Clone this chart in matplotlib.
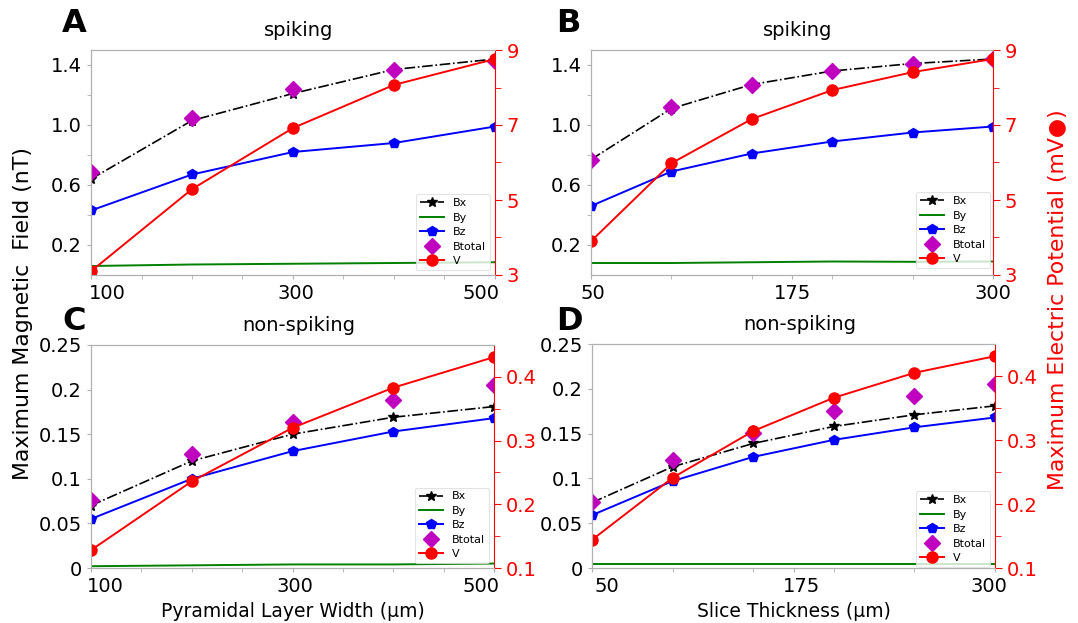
import numpy as np
import matplotlib
matplotlib.use('Agg')
import matplotlib.pyplot as plt
from matplotlib.transforms import ScaledTranslation

# x values
width_um = [100, 200, 300, 400, 500]
thick_um = [50, 100, 150, 200, 250, 300]

# A: spiking, pyramidal layer width
a_bx = [0.64, 1.03, 1.21, 1.37, 1.44]
a_by = [0.06, 0.07, 0.075, 0.08, 0.085]
a_bz = [0.43, 0.67, 0.82, 0.88, 0.99]
a_bt = [0.69, 1.05, 1.24, 1.37, 1.43]
a_v = [3.1, 5.29, 6.92, 8.07, 8.76]

# B: spiking, slice thickness
b_bx = [0.77, 1.11, 1.27, 1.36, 1.41, 1.44]
b_by = [0.08, 0.08, 0.085, 0.09, 0.088, 0.09]
b_bz = [0.46, 0.69, 0.81, 0.89, 0.95, 0.99]
b_bt = [0.77, 1.12, 1.27, 1.36, 1.41, 1.44]
b_v = [3.9, 5.98, 7.16, 7.93, 8.41, 8.76]

# C: non-spiking, pyramidal layer width
c_bx = [0.070, 0.120, 0.150, 0.169, 0.181]
c_by = [0.002, 0.003, 0.004, 0.004, 0.005]
c_bz = [0.055, 0.100, 0.131, 0.153, 0.168]
c_bt = [0.076, 0.128, 0.164, 0.188, 0.205]
c_v = [0.128, 0.236, 0.320, 0.383, 0.431]

# D: non-spiking, slice thickness
d_bx = [0.073, 0.113, 0.139, 0.158, 0.171, 0.181]
d_by = [0.005, 0.005, 0.005, 0.005, 0.005, 0.005]
d_bz = [0.059, 0.097, 0.124, 0.143, 0.157, 0.168]
d_bt = [0.074, 0.121, 0.151, 0.175, 0.192, 0.205]
d_v = [0.144, 0.241, 0.314, 0.366, 0.405, 0.431]

W, H = 1078, 623
TICK_FS = 14
GRAY = '#b0b0b0'


def fig_rect(left, right, top, bottom):
    return [left / W, 1 - bottom / H, (right - left) / W, (bottom - top) / H]


def panel(fig, rect, x, bx, by, bz, bt, v, title, letter, letter_xy, spiking,
          xticks, xminor, ylim, rlim, leg_anchor, xlabel=None):
    ax = fig.add_axes(fig_rect(*rect))
    l1, = ax.plot(x, bx, color='k', ls='-.', marker='*', ms=7, lw=1.2, label='Bx')
    l2, = ax.plot(x, by, color='g', lw=1.4, label='By')
    l3, = ax.plot(x, bz, color='b', marker='p', ms=7, lw=1.4, label='Bz')
    l4, = ax.plot(x, bt, color='m', ls='none', marker='D', ms=8, label='Btotal')
    ax.set_xlim(x[0], x[-1])
    ax.set_ylim(*ylim)

    ax2 = ax.twinx()
    l5, = ax2.plot(x, v, color='r', marker='o', ms=8, lw=1.4, label='V')
    ax2.set_ylim(*rlim)

    if spiking:
        ax.set_yticks([0.2, 0.6, 1.0, 1.4])
        ax.set_yticklabels(['0.2', '0.6', '1.0', '1.4'])
        ax.set_yticks([0.4, 0.8, 1.2], minor=True)
        ax2.set_yticks([3, 5, 7, 9])
        ax2.set_yticks([4, 6, 8], minor=True)
    else:
        ax.set_yticks([0, 0.05, 0.1, 0.15, 0.2, 0.25])
        ax.set_yticklabels(['0', '0.05', '0.1', '0.15', '0.2', '0.25'])
        ax2.set_yticks([0.1, 0.2, 0.3, 0.4])
        ax2.set_yticklabels(['0.1', '0.2', '0.3', '0.4'])
        ax2.set_yticks([0.15, 0.25, 0.35], minor=True)

    ax.set_xticks(xticks)
    ax.set_xticklabels([str(t) for t in xticks])
    ax.set_xticks(xminor, minor=True)

    for s in ['left', 'top', 'bottom']:
        ax.spines[s].set_color(GRAY)
        ax2.spines[s].set_color(GRAY)
    ax2.spines['right'].set_color('r')
    ax.spines['right'].set_visible(False)
    ax.tick_params(which='both', colors=GRAY, labelcolor='k', labelsize=TICK_FS)
    ax.tick_params(which='both', length=3)
    ax2.tick_params(which='both', colors='r', labelcolor='r', labelsize=TICK_FS)
    ax2.tick_params(which='major', length=5)
    ax2.tick_params(which='minor', length=4)

    ax_w = rect[1] - rect[0]
    ax.set_title(title, fontsize=14, pad=10, x=0.5 + 6 / ax_w)
    if xlabel:
        ax.set_xlabel(xlabel, fontsize=13.5)

    leg = ax2.legend(handles=[l1, l2, l3, l4, l5], loc='lower right',
                     bbox_to_anchor=leg_anchor, borderaxespad=0,
                     fontsize=8, framealpha=0.8, edgecolor='#dddddd',
                     handlelength=2.2, labelspacing=0.4, borderpad=0.35)
    leg.get_frame().set_linewidth(0.8)

    fig.text(letter_xy[0] / W, 1 - letter_xy[1] / H, letter,
             fontsize=23, fontweight='bold', ha='center', va='center')
    return ax


def shift_xlabels(fig, ax, shifts_px):
    # nudge the tick labels like in the original figure
    for lab, dx in zip(ax.get_xticklabels(), shifts_px):
        if dx:
            off = ScaledTranslation(dx / fig.dpi, 0, fig.dpi_scale_trans)
            lab.set_transform(lab.get_transform() + off)


def main():
    fig = plt.figure(figsize=(W / 100, H / 100), dpi=100)

    ax_a = panel(fig, (91, 495, 50, 275), width_um, a_bx, a_by, a_bz, a_bt, a_v,
                 'spiking', 'A', (74, 24), True, [100, 300, 500],
                 [150, 200, 250, 350, 400, 450],
                 (0, 1.5), (3, 9), (0.988, 0.022))
    ax_b = panel(fig, (591, 993, 50, 275), thick_um, b_bx, b_by, b_bz, b_bt, b_v,
                 'spiking', 'B', (568, 24), True, [50, 175, 300],
                 [100, 150, 200, 250],
                 (0, 1.5), (3, 9), (0.9925, 0.031))
    ax_c = panel(fig, (91, 494, 345, 568), width_um, c_bx, c_by, c_bz, c_bt, c_v,
                 'non-spiking', 'C', (74, 321), False, [100, 300, 500],
                 [150, 200, 250, 350, 400, 450],
                 (0, 0.25), (0.1, 0.45), (0.988, 0.022),
                 xlabel='Pyramidal Layer Width (\u03bcm)')
    ax_d = panel(fig, (592, 995, 344, 568), thick_um, d_bx, d_by, d_bz, d_bt, d_v,
                 'non-spiking', 'D', (569, 322), False, [50, 175, 300],
                 [100, 150, 200, 250],
                 (0, 0.25), (0.1, 0.45), (0.988, 0.005),
                 xlabel='Slice Thickness (\u03bcm)')

    fig.text(23 / W, 1 - 314 / H, 'Maximum Magnetic  Field (nT)', fontsize=15.8,
             rotation=90, ha='center', va='center')
    fig.text(1058 / W, 1 - 300 / H, 'Maximum Electric Potential (mV\u25cf)',
             fontsize=15.8, color='r', rotation=90, ha='center', va='center')

    fig.canvas.draw()
    shift_xlabels(fig, ax_a, [16, 3, -14])
    shift_xlabels(fig, ax_b, [2, 0, 0])
    shift_xlabels(fig, ax_c, [14, 2, -13])
    shift_xlabels(fig, ax_d, [15, 8, -6])

    plt.savefig('out.png', dpi=100)


if __name__ == '__main__':
    main()
